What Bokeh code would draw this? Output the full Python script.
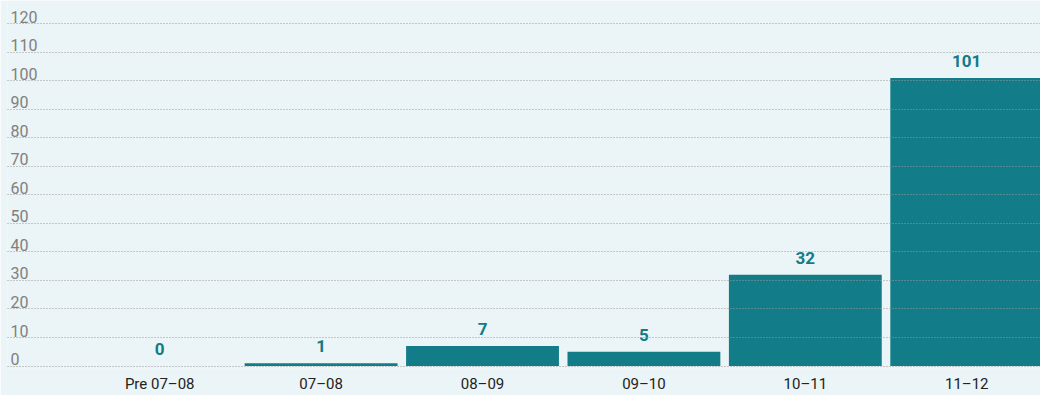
from bokeh.plotting import figure
from bokeh.models import FixedTicker, Range1d, ColumnDataSource
from bokeh.core.properties import value
from bokeh.embed import file_html
from bokeh.resources import INLINE

categories = ["Pre 07–08", "07–08", "08–09", "09–10", "10–11", "11–12"]
counts = [0, 1, 7, 5, 32, 101]
y_ticks = [0, 10, 20, 30, 40, 50, 60, 70, 80, 90, 100, 110, 120]
y_tick_labels = [str(t) for t in y_ticks]

FONT = "Roboto"
BG = "#ebf4f6"
TEAL = "#127c89"

x_start, x_end = -0.943, 5.457
xs = list(range(len(categories)))

p = figure(width=1040, height=395, output_backend="svg", toolbar_location=None,
           x_range=Range1d(x_start, x_end), y_range=Range1d(-0.87, 128.2),
           min_border_left=7, min_border_right=0, min_border_top=0, min_border_bottom=25)
p.background_fill_color = BG
p.border_fill_color = BG
p.outline_line_color = None

src = ColumnDataSource(dict(x=xs, top=counts, lab=[str(c) for c in counts]))
p.vbar(x="x", top="top", bottom=0, width=0.947, source=src,
       fill_color=TEAL, line_color=None)

p.text(x="x", y="top", text="lab", source=src, text_align="center", text_baseline="bottom",
       y_offset=-11, text_font=value(FONT), text_font_style="bold",
       text_font_size="17px", text_color="#137a87")

p.text(x=[x_start] * len(y_ticks), y=y_ticks, text=y_tick_labels, x_offset=3, y_offset=-1,
       text_align="left", text_baseline="bottom", text_font=value(FONT),
       text_font_size="16px", text_color="#808080")

p.yaxis.visible = False
p.yaxis.ticker = FixedTicker(ticks=y_ticks)
p.ygrid.ticker = FixedTicker(ticks=y_ticks)
p.ygrid.grid_line_color = "#9a9a9a"
p.ygrid.grid_line_dash = "1 2"
p.ygrid.grid_line_width = 1
p.ygrid.level = "overlay"
p.xgrid.visible = False

p.xaxis.ticker = FixedTicker(ticks=xs)
p.xaxis.major_label_overrides = {i: c for i, c in enumerate(categories)}
p.xaxis.axis_line_color = None
p.xaxis.major_tick_line_color = None
p.xaxis.minor_tick_line_color = None
p.xaxis.major_tick_out = 0
p.xaxis.major_label_standoff = 6
p.xaxis.major_label_text_font = FONT
p.xaxis.major_label_text_font_size = "15px"
p.xaxis.major_label_text_color = "#222222"

open("out.html", "w").write(file_html(p, INLINE))
